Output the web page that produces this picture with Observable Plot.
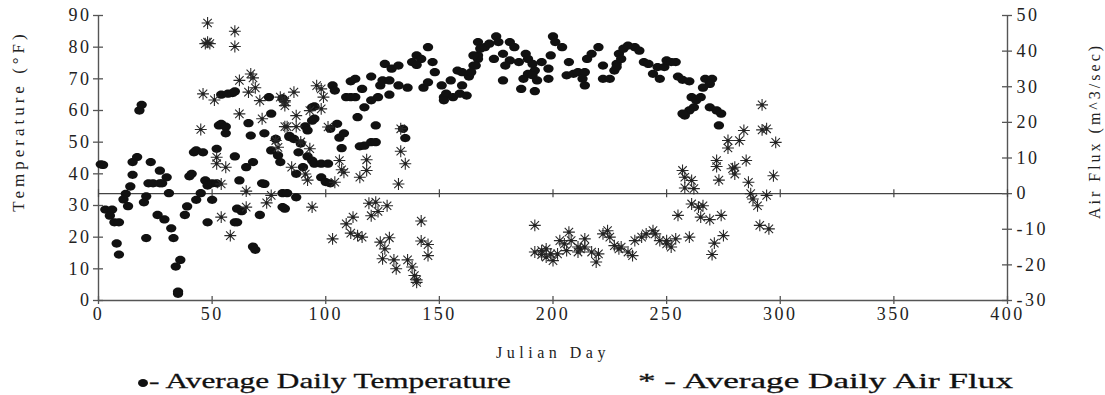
<!DOCTYPE html>
<html>
<head>
<meta charset="utf-8">
<script src="https://cdn.jsdelivr.net/npm/d3@7"></script>
<script src="https://cdn.jsdelivr.net/npm/@observablehq/plot@0.6"></script>
<style>
  html, body { margin: 0; padding: 0; background: #fff; }
  #wrap { position: relative; width: 1105px; height: 395px; overflow: hidden; color: #222; }
  #chart svg { display: block; }
  #chart svg g[aria-label="y-axis tick label"] text,
  #chart svg g[aria-label="x-axis tick label"] text { letter-spacing: 2.5px; }
  #legend { position: absolute; left: 0; top: 365px; width: 1105px; height: 30px; font-family: "Liberation Serif", serif; font-size: 22px; color: #111; -webkit-text-stroke: 0.3px #111; }
  .item { position: absolute; top: 5px; line-height: 1; white-space: nowrap; }
  .bullet { position: absolute; left: 0; top: 9px; width: 10px; height: 8px; border-radius: 50%; background: #111; }
  .lt { display: inline-block; transform-origin: 0 50%; white-space: nowrap; }
</style>
</head>
<body>
<div id="wrap">
  <div id="chart"></div>
  <div id="legend">
    <div class="item" style="left:138px"><span class="bullet"></span><span class="lt" id="lt1" style="margin-left:11px">- Average Daily Temperature</span></div>
    <div class="item" style="left:638px"><span class="lt" id="lt2">* - Average Daily Air Flux</span></div>
  </div>
</div>
<script>
// ---- tick values ----
const xTicks = [0, 50, 100, 150, 200, 250, 300, 350, 400];
const tempTicks = [0, 10, 20, 30, 40, 50, 60, 70, 80, 90];
const fluxTicks = [-30, -20, -10, 0, 10, 20, 30, 40, 50];

// ---- Average daily temperature (°F) ----
const tempDays = [
  1, 2, 3, 6, 5, 7, 9, 8, 9, 12, 11, 13, 14, 15, 15, 17, 18, 19, 20, 21, 21, 23, 22, 24, 27, 28, 27, 30, 26, 29,
  31, 32, 33, 34, 36, 35, 35, 38, 39, 40, 41, 42, 43, 46, 43, 45, 47, 48, 50, 48, 50, 52, 52, 53, 54, 56, 56, 54,
  57, 59, 60, 60, 61, 63, 62, 60, 61, 65, 68, 66, 67, 68, 69, 71, 72, 73, 73, 75, 76, 76, 79, 80, 78, 81, 83, 81, 84,
  81, 84, 86, 88, 89, 92, 94, 95, 98, 101, 87, 90, 98, 100, 102, 87, 82, 91, 94, 95, 92, 94, 95, 102, 105, 106, 108,
  107, 103, 104, 109, 111, 113, 111, 113, 114, 115, 117, 120, 122, 117, 120, 123, 116, 120, 124, 125, 128, 128, 122,
  126, 129, 132, 132, 136, 134, 135, 138, 140, 142, 140, 143, 145, 147, 148, 145, 151, 152, 153, 155, 156, 159, 162,
  152, 158, 160, 160, 163, 165, 167, 167, 167,
  168, 170, 172, 175, 176, 174, 165, 166, 164, 178, 181, 179, 181, 183, 178, 185, 188, 189, 191, 192, 187, 189, 191,
  193, 186, 192, 195, 198, 199, 198, 200, 201, 204, 207, 206, 209, 211, 214, 214, 213, 215, 217, 220, 222, 222, 225,
  227, 228, 229, 231, 233, 236, 238, 230, 228, 240, 242, 244, 247, 246, 249, 250,
  252, 254, 255, 257, 260, 267, 270, 269, 266, 261, 263, 265, 262, 260, 258, 257, 269, 272, 274, 273
];
const tempValues = [
  43, 42.8, 28.7, 28.7, 26.8, 24.7, 24.7, 18, 14.5, 33.7, 31.9, 29.8, 36, 39.7, 43.7, 45.3, 60, 61.8, 31, 32.9, 19.7,
  43.7, 37, 37, 37, 37, 41, 38.9, 27, 25.6,
  33.9, 22.8, 19.7, 10.7, 12.8, 2.1, 2.8, 27, 29.7, 39.2, 40, 46.8, 47.4, 46.8, 31.8, 33.9, 37.9, 24.7, 31.8, 36.3, 37,
  37, 47.9, 55.3, 55.8, 54.9, 52.8, 65,
  65.3, 65.5, 66, 45.5, 29, 28.2, 37.9, 24.7, 24.7, 42.1, 43.7, 56, 52.1, 17, 16, 27, 37, 36.8, 52.8, 64.2, 59, 47.4,
  45.8, 43.7, 51, 33.9, 33.9, 29.5, 51.6,
  63.8, 52, 51, 46.8, 49.6, 45.5, 44.2, 43.2, 43.2, 43.2, 40, 42.1, 38.9, 37.4, 37, 32.6, 29, 55, 56.8, 57.4, 53.7, 61,
  61.3, 54.2, 55.8, 51.4, 52.8,
  48.1, 67.9, 66.3, 64.2, 64.2, 64.2, 69.2, 70, 57.9, 48.7, 48.9, 50, 50, 61, 63.2, 64.2, 66.8, 70.7, 67.9, 69.5, 69.5,
  65, 55.3,
  74.7, 73.2, 74.2, 67.9, 67.2, 54.2, 51.3, 75.3, 77.4, 76.3, 74.4, 67.2, 80, 75.3, 72.1, 68.9, 67.9, 64.2, 65.3, 69.5,
  64.2, 65.3, 64.7,
  63.2, 72.6, 72.1, 67.9, 70.7, 74.2, 76.3, 77.4, 81.6,
  79.5, 80, 81.1, 83.4, 81.6, 76.3, 77.4, 74.2, 72.1, 77.9, 75.8, 74.2, 81.6, 80, 69.5, 75.3, 77.9, 76.3, 74.7, 72.6,
  70, 71.6, 71.1,
  69.5, 66.8, 66.1, 75.3, 73.2, 77.4, 70, 83.4, 81.6, 80, 75.3, 71.1, 71.6, 72.1, 72.1, 67.9, 70, 76.3, 77.9, 80, 74.2,
  70, 70,
  72.6, 74.7, 77.9, 79.5, 80.5, 80, 78.9, 76.3, 73.7, 75.3, 74.7, 71.6, 70, 73.7, 73.7, 75.8,
  75.3, 75.3, 70.7, 69.7, 69.2, 70, 70, 68.4, 67.2, 64.2, 63.2, 64.2, 61, 60, 58.4, 59, 61, 60, 59, 55.3
];

// ---- Average daily air flux (m^3/sec) ----
const fluxDays = [
  48, 47, 49, 48, 60, 60, 46, 51, 45, 62, 67, 68, 69, 66, 71, 62, 72, 80, 82, 83, 52, 52, 56, 54, 65, 76, 74, 65, 54,
  58, 78, 79,
  86, 82, 82, 96, 98, 99, 87, 93, 98, 82, 87, 101, 89, 93, 85, 91, 92, 106, 107, 108, 104, 118, 118, 115, 133, 133,
  135, 132, 94, 119, 122, 127, 123, 120, 112, 109, 111, 114, 116, 103, 124, 128, 126, 125, 130, 131, 136, 138, 139,
  140, 140, 142, 142, 145, 145,
  192, 192, 195, 197, 199, 200, 197, 195, 203, 205, 207, 208, 206, 202, 211, 212, 214, 214, 211, 217, 219, 220, 222,
  224, 225, 227, 229, 230, 233, 235, 236, 239, 241, 244, 245, 247, 250,
  292, 284, 292, 294, 298, 277, 282, 277, 272, 272, 285, 279, 280, 280, 273, 297, 286, 257, 258, 261, 258, 262, 287,
  288, 290, 294, 261, 264, 266, 255, 265, 269, 274, 291, 295, 250, 252, 254, 260, 275, 271, 270
];
const fluxValues = [
  47.9, 42.1, 42.1, 42.5, 45.6, 41.3, 28, 26.3, 18, 31.8, 33.6, 32.5, 29.7, 28.5, 26.1, 22.4, 21, 27.1, 25.7, 18.8,
  10.2, 8.4, 7.4, 2.7, 0.7, -0.5, -2.6, -3.8, -6.6, -11.8, 14.9, 13,
  28.5, 26.1, 24.7, 30.3, 29.4, 27.1, 21.9, 23.3, 23.8, 18.8, 18.8, 18.7, 14.5, 12.6, 7.4, 5.5, 3.8, 9.3, 6.7, 6, 3.2,
  9.5, 6.5, 4.6, 18.2, 11.9, 8.4, 2.7, -3.8, -2.7, -2.4, -3.4, -5, -6.2, -6.6, -8.5, -11.1, -11.8, -12.2, -12.7,
  -13.6, -12.4, -15.5, -18.3, -18.6, -21.1, -18.6, -20.6, -23, -24.2, -24.9, -7.7, -13.3, -14.3, -17.4,
  -8.9, -16.4, -16, -15.5, -16.9, -18.8, -17.8, -17.1, -13.2, -14.1, -10.8, -13.2, -16, -16.9, -15, -15.5, -12.7, -15,
  -16.4, -16.4, -19.2, -16.9, -11.3, -10.4, -12.2, -14.6, -15.5, -15, -16.4, -17.4, -13.2, -12.2, -11.3, -10.4, -11.3,
  -13.2, -14.1,
  24.9, 17.7, 17.9, 18.2, 14.4, 14.9, 14.9, 12.8, 9.3, 7.6, 9.3, 7, 7.4, 5.5, 3.8, 5, 3.2, 6.5, 4.6, 3.7, 1.6, 1.4, 0,
  -1.5, -3.4, -0.5, -2.9, -3.8, -3.4, -6.1, -6.6, -7.3, -6.1, -8.9, -9.9, -13.2, -15, -12.7, -12.2, -11.8, -13.9, -17.1
];

// ---- build tables ----
const temps = tempDays.map((d, i) => ({day: d, t: tempValues[i]}));
const fluxes = fluxDays.map((d, i) => ({day: d, f: fluxValues[i]}));

// the flux axis (-30..50) shares the frame with the temperature axis (0..90)
const tempMin = tempTicks[0], tempMax = tempTicks[tempTicks.length - 1];
const fluxMin = fluxTicks[0], fluxMax = fluxTicks[fluxTicks.length - 1];
const k = (tempMax - tempMin) / (fluxMax - fluxMin);
const toTemp = f => tempMin + (f - fluxMin) * k;
const fromTemp = t => (t - tempMin) / k + fluxMin;

const ellipseSymbol = {
  draw(ctx, size) {
    const r = Math.sqrt(size / Math.PI);
    const rx = r * 1.12, ry = r * 0.9, c = 0.5523;
    ctx.moveTo(rx, 0);
    ctx.bezierCurveTo(rx, ry * c, rx * c, ry, 0, ry);
    ctx.bezierCurveTo(-rx * c, ry, -rx, ry * c, -rx, 0);
    ctx.bezierCurveTo(-rx, -ry * c, -rx * c, -ry, 0, -ry);
    ctx.bezierCurveTo(rx * c, -ry, rx, -ry * c, rx, 0);
    ctx.closePath();
  }
};
const starSymbol = {
  draw(ctx, size) {
    const R = Math.sqrt(size / Math.PI) * 1.7;
    for (let i = 0; i < 4; i++) {
      const a = i * Math.PI / 4, cx = Math.cos(a) * R, sy = Math.sin(a) * R;
      ctx.moveTo(-cx, -sy);
      ctx.lineTo(cx, sy);
    }
  }
};

const axisColor = "#555";
const fluxZero = toTemp(0);

const chart = Plot.plot({
  width: 1105,
  height: 365,
  marginLeft: 98,
  marginRight: 98,
  marginTop: 15,
  marginBottom: 65,
  style: {fontFamily: "Liberation Serif, Times New Roman, serif", fontSize: "18px", color: "#222", background: "#fff"},
  x: {domain: [xTicks[0], xTicks[xTicks.length - 1]]},
  y: {domain: [tempMin, tempMax]},
  marks: [
    // frame lines
    Plot.ruleX([xTicks[0], xTicks[xTicks.length - 1]], {stroke: axisColor, strokeWidth: 1.4}),
    Plot.ruleY([tempMin], {stroke: axisColor, strokeWidth: 1.7}),
    Plot.ruleY([fluxZero], {stroke: "#444", strokeWidth: 1.2}),
    // crossing tick marks
    Plot.ruleY(tempTicks, {y: d => d, x1: xTicks[0], x2: xTicks[0], insetLeft: -5, insetRight: -5, stroke: axisColor, strokeWidth: 1.3}),
    Plot.ruleY(fluxTicks, {y: d => toTemp(d), x1: xTicks[xTicks.length - 1], x2: xTicks[xTicks.length - 1], insetLeft: -5, insetRight: -5, stroke: axisColor, strokeWidth: 1.3}),
    Plot.ruleX(xTicks, {x: d => d, y1: tempMin, y2: tempMin, insetTop: -4, insetBottom: -4, stroke: axisColor, strokeWidth: 1.3}),
    Plot.ruleX(xTicks, {x: d => d, y1: fluxZero, y2: fluxZero, insetTop: -4, insetBottom: -4, stroke: "#444", strokeWidth: 1.2}),
    // axes (labels only)
    Plot.axisY(tempTicks, {anchor: "left", tickSize: 0, tickPadding: 7, label: null, fontSize: 18}),
    Plot.axisY(fluxTicks.map(toTemp), {anchor: "right", tickSize: 0, tickPadding: 9, label: null, fontSize: 18, tickFormat: d => String(Math.round(fromTemp(d)))}),
    Plot.axisX(xTicks, {anchor: "bottom", tickSize: 0, tickPadding: 7, label: null, fontSize: 18}),
    // axis titles
    Plot.text(["Temperature (°F)"], {text: d => d, frameAnchor: "left", textAnchor: "middle", rotate: -90, dx: -80, dy: -37, fontSize: 17, fill: "#222"}),
    Plot.text(["Air Flux (m^3/sec)"], {text: d => d, frameAnchor: "right", textAnchor: "middle", rotate: -90, dx: 87, dy: -27, fontSize: 16, fill: "#222"}),
    Plot.text(["Julian Day"], {text: d => d, frameAnchor: "bottom", textAnchor: "middle", dy: 57, fontSize: 16, fill: "#222"}),
    // data
    Plot.dot(temps, {x: "day", y: "t", symbol: ellipseSymbol, r: 4.6, fill: "#111", stroke: "none"}),
    Plot.dot(fluxes, {x: "day", y: d => toTemp(d.f), symbol: starSymbol, r: 3.5, fill: "none", stroke: "#2a2a2a", strokeWidth: 1.1}),
    Plot.dot(fluxes, {x: "day", y: d => toTemp(d.f), r: 1.6, fill: "#222", stroke: "none"})
  ]
});
document.getElementById("chart").appendChild(chart);

// letter-spacing of the axis titles
d3.select(chart).selectAll("text").each(function () {
  const s = this.textContent;
  if (s === "Temperature (°F)") this.style.letterSpacing = "4px";
  else if (s === "Air Flux (m^3/sec)") this.style.letterSpacing = "3px";
  else if (s === "Julian Day") this.style.letterSpacing = "4.5px";
});

// stretch legend text horizontally to match the scanned proportions
function fit(id, target) {
  const el = document.getElementById(id);
  const w = el.getBoundingClientRect().width;
  el.style.transform = `scaleX(${target / w})`;
}
fit("lt1", 373 - 11);
fit("lt2", 375);
</script>
</body>
</html>
